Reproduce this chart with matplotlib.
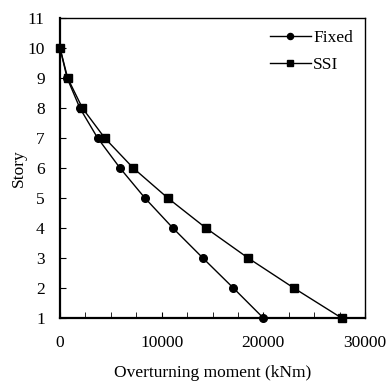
import matplotlib
matplotlib.use("Agg")
import matplotlib.pyplot as plt
from matplotlib.ticker import MultipleLocator

stories = [10, 9, 8, 7, 6, 5, 4, 3, 2, 1]
fixed_moment = [0, 700, 1950, 3700, 5900, 8350, 11100, 14050, 17050, 20000]
ssi_moment = [0, 750, 2200, 4400, 7200, 10600, 14350, 18500, 23000, 27700]

plt.rcParams["font.family"] = ["Liberation Serif", "DejaVu Serif"]
plt.rcParams["font.size"] = 12.5

fig = plt.figure(figsize=(3.89, 3.83), dpi=100)
ax = fig.add_axes([60 / 389, 1 - 318 / 383, 305 / 389, 300 / 383])

ax.plot(fixed_moment, stories, color="black", lw=1.0, marker="o", ms=5.5,
        label="Fixed", clip_on=False, zorder=3)
ax.plot(ssi_moment, stories, color="black", lw=1.0, marker="s", ms=5.5,
        label="SSI", clip_on=False, zorder=3)

ax.set_xlim(0, 30000)
ax.set_ylim(1, 11)
ax.xaxis.set_major_locator(MultipleLocator(10000))
ax.xaxis.set_minor_locator(MultipleLocator(2500))
ax.yaxis.set_major_locator(MultipleLocator(1))
ax.tick_params(axis="both", which="both", direction="in", color="black")
ax.tick_params(axis="x", which="major", length=4, pad=12, top=False)
ax.tick_params(axis="x", which="minor", length=4, top=False)
ax.tick_params(axis="y", which="major", length=4, pad=11, right=False)

for side in ("left", "bottom"):
    ax.spines[side].set_linewidth(1.6)
for side in ("top", "right"):
    ax.spines[side].set_linewidth(1.0)

ax.set_xlabel("Overturning moment (kNm)", labelpad=10)
ax.set_ylabel("Story", labelpad=0)

leg = ax.legend(loc="upper right", frameon=False, handlelength=2.4, handletextpad=0.1,
                labelspacing=0.6, borderaxespad=0.3, markerscale=0.8, fontsize=12.5)

fig.savefig("out.png", dpi=100)
